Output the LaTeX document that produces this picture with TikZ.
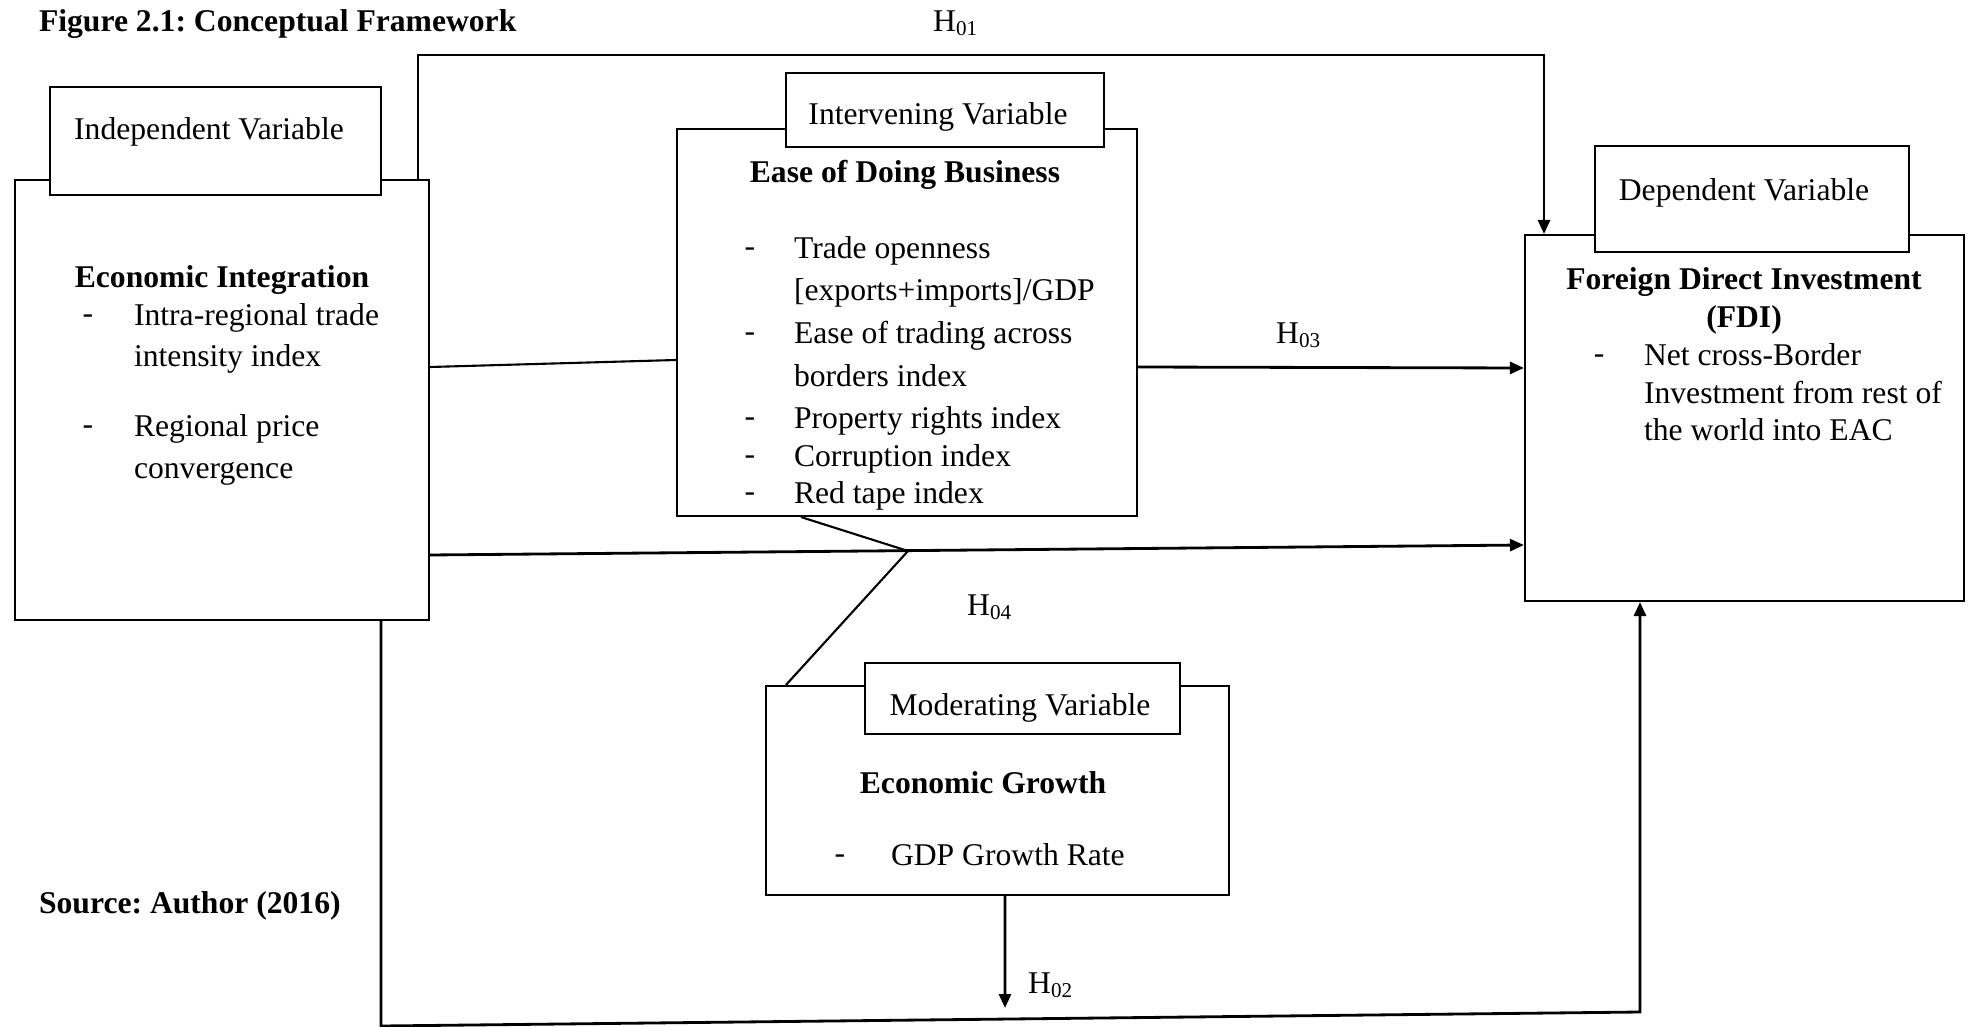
\documentclass[tikz,border=0pt]{standalone}
\usepackage{fontspec}
\setmainfont{Liberation Serif}
\usetikzlibrary{arrows.meta}
\frenchspacing

\begin{document}
\begin{tikzpicture}[x=0.1mm, y=-0.1mm, line width=0.6pt,
  every node/.style={inner sep=0pt, font=\fontsize{9}{11}\selectfont},
  box/.style={draw, rectangle},
  tag/.style={draw, rectangle, fill=white},
  hd/.style={font=\fontsize{9}{11}\selectfont\bfseries},
  arr/.style={-{Triangle[length=1.4mm, width=1.2mm]}, line width=0.8pt}]
  \useasboundingbox (0,0) rectangle (1973,1027);

  \node[hd, anchor=mid west] (title) at (38,23) {Figure 2.1: Conceptual Framework};
  \node[hd, anchor=mid west] (source) at (38,905) {Source: Author (2016)};

  % outer boxes
  \node[box, minimum width=41.4mm, minimum height=44mm] (indep) at (222,400) {};
  \node[box, minimum width=46mm, minimum height=38.7mm] (interv) at (907,322.5) {};
  \node[box, minimum width=43.9mm, minimum height=36.6mm] (fdi) at (1744.5,418) {};
  \node[box, minimum width=46.3mm, minimum height=20.9mm] (moder) at (997.5,790.5) {};

  % tags on top
  \node[tag, minimum width=33.1mm, minimum height=10.8mm] (indeptag) at (215.5,141) {};
  \node[tag, minimum width=31.8mm, minimum height=7.4mm] (intervtag) at (945,110) {};
  \node[tag, minimum width=31.4mm, minimum height=10.6mm] (fditag) at (1752,199) {};
  \node[tag, minimum width=31.5mm, minimum height=7.1mm] (modertag) at (1022.5,698.5) {};

  \node (indeplbl) at (209,132) {Independent Variable};
  \node (intervlbl) at (938,117) {Intervening Variable};
  \node (fdilbl) at (1744,193) {Dependent Variable};
  \node (moderlbl) at (1020,708) {Moderating Variable};

  % independent variable
  \node[hd] (eihead) at (222,280) {Economic Integration};
  \node (eid1) at (88,319) {-};
  \node[anchor=mid west] (ei1) at (133,317) {Intra-regional trade};
  \node[anchor=mid west] (ei2) at (133,358) {intensity index};
  \node (eid2) at (88,430) {-};
  \node[anchor=mid west] (ei3) at (133,428) {Regional price};
  \node[anchor=mid west] (ei4) at (133,470) {convergence};

  % intervening variable
  \node[hd] (edbhead) at (905,175) {Ease of Doing Business};
  \node (edbd1) at (750,252) {-};
  \node[anchor=mid west] (edb1) at (793,250) {Trade openness};
  \node[anchor=mid west] (edb2) at (793,292) {[exports+imports]/GDP};
  \node (edbd2) at (750,337) {-};
  \node[anchor=mid west] (edb3) at (793,335) {Ease of trading across};
  \node[anchor=mid west] (edb4) at (793,378) {borders index};
  \node (edbd3) at (750,422) {-};
  \node[anchor=mid west] (edb5) at (793,420) {Property rights index};
  \node (edbd4) at (750,460) {-};
  \node[anchor=mid west] (edb6) at (793,458) {Corruption index};
  \node (edbd5) at (750,497) {-};
  \node[anchor=mid west] (edb7) at (793,495) {Red tape index};

  % dependent variable
  \node[hd] (fdihead1) at (1744,282) {Foreign Direct Investment};
  \node[hd] (fdihead2) at (1744,320) {(FDI)};
  \node (fdid1) at (1599,359) {-};
  \node[anchor=mid west] (fdi1) at (1643,357) {Net cross-Border};
  \node[anchor=mid west] (fdi2) at (1643,395) {Investment from rest of};
  \node[anchor=mid west] (fdi3) at (1643,432) {the world into EAC};

  % moderating variable
  \node[hd] (eghead) at (983,783) {Economic Growth};
  \node (egd1) at (840,859) {-};
  \node[anchor=mid west] (eg1) at (890,857) {GDP Growth Rate};

  % hypotheses
  \node (h01) at (956,23) {H\textsubscript{01}};
  \node (h03) at (1299,335) {H\textsubscript{03}};
  \node (h04) at (990,607) {H\textsubscript{04}};
  \node (h02) at (1051,985) {H\textsubscript{02}};

  \coordinate (jn) at (908,551);
  \coordinate (topy) at (956,55);
  \coordinate (b1) at (381,1026);
  \coordinate (b2) at (1640,1012);
  \coordinate (h2end) at (1005,1008);

  \draw ([yshift=3.3mm]indep.east) -- ([yshift=-3.75mm]interv.west);
  \draw[arr] ([yshift=-4.45mm]interv.east) -- ([yshift=5mm]fdi.west);
  \draw[arr] ([yshift=-15.5mm]indep.east) -- ([yshift=-12.7mm]fdi.west);
  \draw ([xshift=-10.6mm]interv.south) -- (jn) -- ([xshift=2.1mm]moder.north west);
  \draw[arr] ([xshift=19.6mm]indep.north) |- (topy) -| ([xshift=-20.05mm]fdi.north);
  \draw[arr] ([xshift=15.9mm]indep.south) -- (b1) -- (b2) -- ([xshift=-10.45mm]fdi.south);
  \draw[arr] ([xshift=0.75mm]moder.south) -- (h2end);
\end{tikzpicture}
\end{document}
